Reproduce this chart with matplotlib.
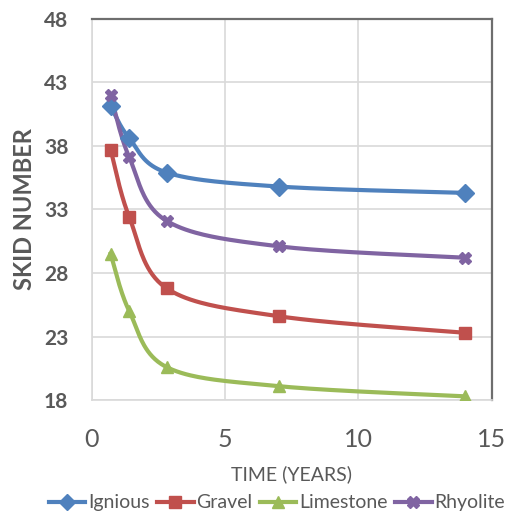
import numpy as np
import matplotlib.pyplot as plt

plt.rcParams['font.family'] = ['Lato', 'DejaVu Sans']

# time in years
years = [0.7, 1.4, 2.8, 7, 14]

# skid numbers
ignious = [41.1, 38.6, 35.9, 34.8, 34.3]
gravel = [37.7, 32.4, 26.8, 24.6, 23.3]
limestone = [29.5, 25.0, 20.6, 19.1, 18.3]
rhyolite = [42.0, 37.1, 32.1, 30.1, 29.2]

names = ['Ignious', 'Gravel', 'Limestone', 'Rhyolite']
colors = ['#4F81BD', '#C0504D', '#9BBB59', '#8064A2']
markers = ['D', 's', '^', 'X']


def smooth(x, y, n=40):
    # Excel style smoothed line (bezier through points)
    x = np.asarray(x, float)
    y = np.asarray(y, float)
    px = np.concatenate([[x[0]], x, [x[-1]]])
    py = np.concatenate([[y[0]], y, [y[-1]]])
    xs, ys = [], []
    t = np.linspace(0, 1, n)
    for i in range(1, len(px) - 2):
        p0 = np.array([px[i], py[i]])
        p3 = np.array([px[i + 1], py[i + 1]])
        p1 = p0 + (np.array([px[i + 1], py[i + 1]]) - np.array([px[i - 1], py[i - 1]])) / 6
        p2 = p3 - (np.array([px[i + 2], py[i + 2]]) - np.array([px[i], py[i]])) / 6
        b = ((1 - t) ** 3)[:, None] * p0 + (3 * (1 - t) ** 2 * t)[:, None] * p1 \
            + (3 * (1 - t) * t ** 2)[:, None] * p2 + (t ** 3)[:, None] * p3
        xs.extend(b[:, 0])
        ys.extend(b[:, 1])
    return xs, ys


fig, ax = plt.subplots(figsize=(5.08, 5.19), dpi=100)
fig.subplots_adjust(left=0.181, right=0.968, bottom=0.229, top=0.964)

for vals, name, c, m in zip([ignious, gravel, limestone, rhyolite], names, colors, markers):
    sx, sy = smooth(years, vals)
    ax.plot(sx, sy, color=c, lw=3, zorder=3)
    ax.plot(years, vals, ls='none', marker=m, color=c, ms=9, zorder=4)
    ax.plot([], [], color=c, lw=3, marker=m, ms=8, label=name)

ax.set_xlim(0, 15)
ax.set_ylim(18, 48)
ax.set_xticks([0, 5, 10, 15])
ax.set_yticks([18, 23, 28, 33, 38, 43, 48])
ax.grid(True, color='#D9D9D9', lw=1.2)
ax.set_axisbelow(True)
ax.tick_params(length=0, colors='#595959')
ax.tick_params(axis='x', labelsize=18, pad=20)
ax.tick_params(axis='y', labelsize=15, pad=17)
for lbl in ax.get_yticklabels():
    lbl.set_fontweight('bold')

for s in ['left', 'bottom']:
    ax.spines[s].set_color('#D9D9D9')
    ax.spines[s].set_linewidth(1.2)
for s in ['top', 'right']:
    ax.spines[s].set_color('#6E6E6E')
    ax.spines[s].set_linewidth(1.6)

ax.set_xlabel('TIME (YEARS)', fontsize=14, color='#595959', labelpad=10)
ax.set_ylabel('SKID NUMBER', fontsize=17, color='#595959', fontweight='bold', labelpad=6)

fig.legend(loc='center', bbox_to_anchor=(0.545, 0.031), ncol=4, frameon=False,
           fontsize=14, labelcolor='#595959', handlelength=1.9, handletextpad=0.15,
           columnspacing=0.35, borderaxespad=0, borderpad=0)

plt.savefig('out.png')
